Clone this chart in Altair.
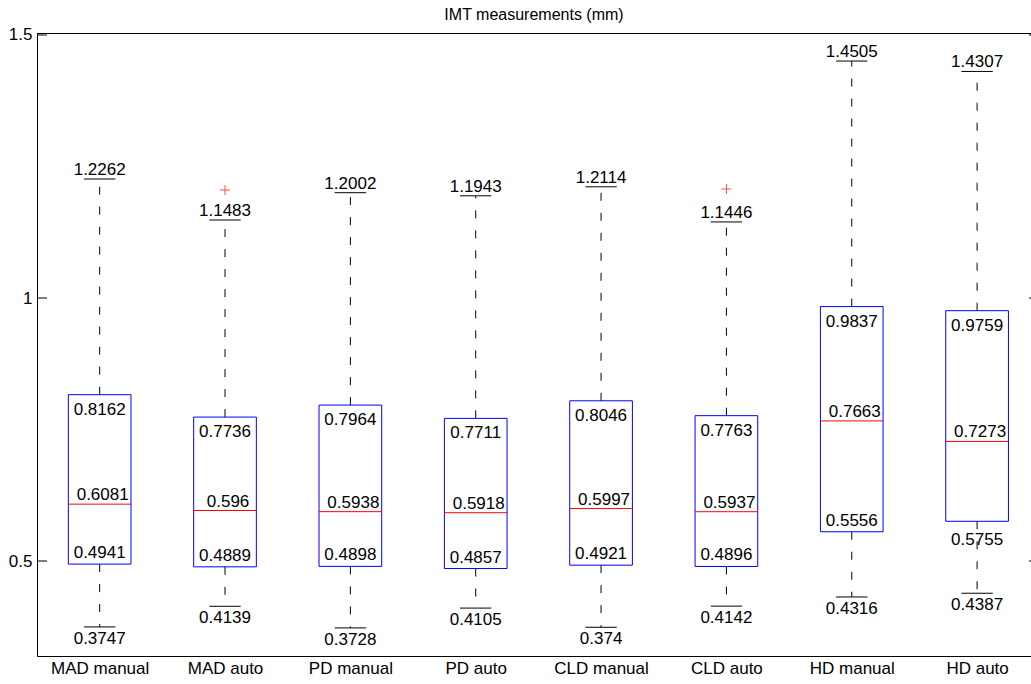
import altair as alt
import pandas as pd

# Box-plot summary statistics of IMT measurements (mm)
categories = ["MAD manual", "MAD auto", "PD manual", "PD auto",
              "CLD manual", "CLD auto", "HD manual", "HD auto"]
upper_whisker = [1.2262, 1.1483, 1.2002, 1.1943, 1.2114, 1.1446, 1.4505, 1.4307]
q3 = [0.8162, 0.7736, 0.7964, 0.7711, 0.8046, 0.7763, 0.9837, 0.9759]
median = [0.6081, 0.596, 0.5938, 0.5918, 0.5997, 0.5937, 0.7663, 0.7273]
q1 = [0.4941, 0.4889, 0.4898, 0.4857, 0.4921, 0.4896, 0.5556, 0.5755]
lower_whisker = [0.3747, 0.4139, 0.3728, 0.4105, 0.374, 0.4142, 0.4316, 0.4387]

# Outliers (drawn as red "+")
outlier_category = ["MAD auto", "CLD auto"]
outlier_value = [1.2053, 1.2072]

# Where the Q1 label sits relative to the box bottom
q1_label_side = ["inside"] * 7 + ["outside"]

y_ticks = [0.5, 1.0, 1.5]

FONT = "Liberation Sans"
W, H = 994, 623

df = pd.DataFrame({
    "category": categories,
    "pos": list(range(1, len(categories) + 1)),
    "upper": upper_whisker,
    "q3": q3,
    "median": median,
    "q1": q1,
    "lower": lower_whisker,
    "q1_side": q1_label_side,
})
out_df = pd.DataFrame({
    "pos": [categories.index(c) + 1 for c in outlier_category],
    "value": outlier_value,
})
tick_df = pd.DataFrame({"v": y_ticks})

x_scale = alt.Scale(domain=[0.5, 8.43], nice=False, zero=False)
y_scale = alt.Scale(domain=[0.3194, 1.5038], nice=False, zero=False)

label_expr = "[" + ",".join(f"'{c}'" for c in categories) + "][datum.value - 1]"
x_axis = alt.Axis(values=list(range(1, len(categories) + 1)), labelExpr=label_expr,
                  title=None, ticks=False, grid=False, labelPadding=4,
                  labelFontSize=17, labelFont=FONT, labelColor="black",
                  domainColor="black", domainWidth=1)
y_axis = alt.Axis(values=y_ticks, title=None, ticks=False, grid=False, labelPadding=5,
                  labelExpr="format(datum.value, '~g')",
                  labelFontSize=17, labelFont=FONT, labelColor="black",
                  domainColor="black", domainWidth=1)

base = alt.Chart(df).transform_calculate(
    box_lo="datum.pos - 0.25", box_hi="datum.pos + 0.25",
    cap_lo="datum.pos - 0.125", cap_hi="datum.pos + 0.125",
)

X = lambda f: alt.X(f, type="quantitative", scale=x_scale, axis=x_axis)
Y = lambda f: alt.Y(f, type="quantitative", scale=y_scale, axis=y_axis)

whisker_up = base.mark_rule(color="black", strokeWidth=1, strokeDash=[8, 12]).encode(
    x=X("pos"), y=Y("q3"), y2="upper")
whisker_lo = base.mark_rule(color="black", strokeWidth=1, strokeDash=[8, 12]).encode(
    x=X("pos"), y=Y("q1"), y2="lower")
cap_up = base.mark_rule(color="black", strokeWidth=1).encode(
    x=X("cap_lo"), x2="cap_hi", y=Y("upper"))
cap_lo = base.mark_rule(color="black", strokeWidth=1).encode(
    x=X("cap_lo"), x2="cap_hi", y=Y("lower"))
box = base.mark_rect(fillOpacity=0, stroke="#0000ff", strokeWidth=1).encode(
    x=X("box_lo"), x2="box_hi", y=Y("q1"), y2="q3")
med = base.mark_rule(color="#ff0000", strokeWidth=1).encode(
    x=X("box_lo"), x2="box_hi", y=Y("median"))

outliers = alt.Chart(out_df).mark_point(
    shape="M-1,0L1,0M0,-1L0,1", size=100, filled=False, stroke="#ff0000", strokeWidth=1
).encode(x=X("pos"), y=Y("value"))


def labels(field, dy, dx=0, data=None):
    src = base if data is None else data
    return src.mark_text(font=FONT, fontSize=17, color="black", align="center",
                         baseline="middle", dy=dy, dx=dx).encode(
        x=X("pos"), y=Y(field), text=alt.Text(f"{field}:Q", format=".4~f"))


lab_upper = labels("upper", -9)
lab_q3 = labels("q3", 15)
lab_med = labels("median", -9, dx=3)
lab_q1_in = labels("q1", -11, data=base.transform_filter("datum.q1_side == 'inside'"))
lab_q1_out = labels("q1", 19, data=base.transform_filter("datum.q1_side == 'outside'"))
lab_lower = labels("lower", 12)

# Frame top edge and inward ticks on both sides
top_edge = alt.Chart(tick_df).mark_rule(color="black", strokeWidth=1).encode(
    x=alt.value(0), x2=alt.value(W), y=alt.value(0.5))
ticks_left = alt.Chart(tick_df).mark_rule(color="black", strokeWidth=1).encode(
    y=Y("v"), x=alt.value(0), x2=alt.value(10))
ticks_right = alt.Chart(tick_df).mark_rule(color="black", strokeWidth=1).encode(
    y=Y("v"), x=alt.value(W - 2), x2=alt.value(W))

chart = alt.layer(
    whisker_up, whisker_lo, cap_up, cap_lo, box, med, outliers,
    lab_upper, lab_q3, lab_med, lab_q1_in, lab_q1_out, lab_lower,
    top_edge, ticks_left, ticks_right,
).properties(
    width=W, height=H,
    title=alt.Title("IMT measurements (mm)", font=FONT, fontSize=16,
                    fontWeight="normal", color="black", offset=3),
    autosize=alt.AutoSizeParams(type="none"),
    padding={"left": 37, "top": 33, "right": 0, "bottom": 28},
).configure_view(stroke=None).configure(background="white")

chart.save("out.html", embed_options={"renderer": "svg", "actions": False})
